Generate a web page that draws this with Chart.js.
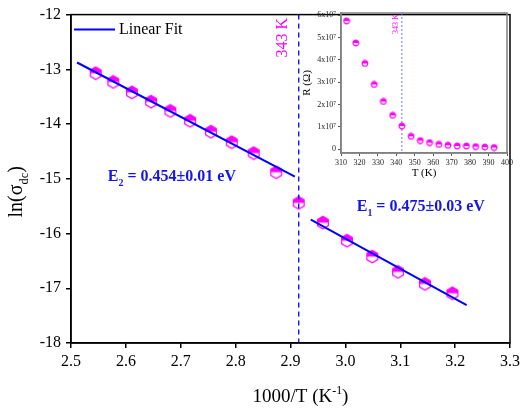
<!DOCTYPE html>
<html><head><meta charset="utf-8">
<script src="https://cdn.jsdelivr.net/npm/chart.js@4"></script>
<style>
html,body{margin:0;padding:0;background:#fff;}
#wrap{position:relative;width:524px;height:408px;overflow:hidden;}
#main{position:absolute;left:0;top:0;}
#inset{position:absolute;left:300px;top:0;}
</style></head><body>
<div id="wrap"><canvas id="main" width="524" height="408"></canvas><canvas id="inset" width="224" height="185"></canvas></div>
<script>
// ---------- data (main plot) ----------
const invT_high = [2.545, 2.577, 2.611, 2.646, 2.681, 2.717, 2.755, 2.793, 2.833, 2.874];
const lnSigma_high = [-13.07, -13.23, -13.42, -13.59, -13.76, -13.94, -14.14, -14.33, -14.53, -14.88];
const invT_mid = [2.915];
const lnSigma_mid = [-15.44];
const invT_low = [2.959, 3.003, 3.049, 3.096, 3.145, 3.195];
const lnSigma_low = [-15.80, -16.13, -16.42, -16.70, -16.92, -17.09];
const fitHighX = [2.511, 2.908];
const fitHighY = [-12.875, -14.96];
const fitLowX = [2.937, 3.221];
const fitLowY = [-15.745, -17.31];
const transitionInvT = 2.915;
const xTicks = [2.5, 2.6, 2.7, 2.8, 2.9, 3.0, 3.1, 3.2, 3.3];
const yTicks = [-18, -17, -16, -15, -14, -13, -12];
const labelE2 = ['E', '2', ' = 0.454±0.01 eV'];
const labelE1 = ['E', '1', ' = 0.475±0.03 eV'];
// ---------- data (inset) ----------
const insetT = [313, 318, 323, 328, 333, 338, 343, 348, 353, 358, 363, 368, 373, 378, 383, 388, 393];
const insetR = [5.745e7, 4.76e7, 3.84e7, 2.90e7, 2.14e7, 1.52e7, 1.04e7, 0.58e7, 0.39e7, 0.30e7, 0.22e7, 0.18e7, 0.15e7, 0.15e7, 0.12e7, 0.10e7, 0.08e7];
const insetXTicks = [310, 320, 330, 340, 350, 360, 370, 380, 390, 400];
const insetYTicks = [0, 1e7, 2e7, 3e7, 4e7, 5e7, 6e7];
const transitionT = 343;

const SERIF = '"Liberation Serif", "Times New Roman", serif';
const MAGENTA = '#ff00ff';
const BLUE = '#0000ff';

function halfMarker(shape, w, h, r) {
  const c = document.createElement('canvas');
  c.width = w; c.height = h;
  const g = c.getContext('2d');
  const cx = w / 2, cy = h / 2;
  g.beginPath();
  if (shape === 'hex') {
    for (let i = 0; i < 6; i++) {
      const a = -Math.PI / 2 + i * Math.PI / 3;
      const px = cx + r * Math.cos(a), py = cy + r * Math.sin(a);
      if (i === 0) g.moveTo(px, py); else g.lineTo(px, py);
    }
    g.closePath();
  } else {
    g.arc(cx, cy, r, 0, Math.PI * 2);
  }
  g.fillStyle = '#fff'; g.fill();
  g.save(); g.clip();
  g.fillStyle = MAGENTA; g.fillRect(0, 0, w, cy);
  g.restore();
  g.lineWidth = 1.2; g.strokeStyle = MAGENTA; g.stroke();
  return c;
}
const hexMarker = halfMarker('hex', 14, 15, 6.2);
const dotMarker = halfMarker('circle', 8, 8, 2.8);

function pts(xs, ys) { return xs.map((x, i) => ({x: x, y: ys[i]})); }

function rich(ctx, x, y, parts, size, weight, align) {
  const segs = parts.map(p => typeof p === 'string' ? {t: p, m: 0} : p);
  let w = 0;
  segs.forEach(s => {
    const fs = s.m ? size * 0.62 : size;
    ctx.font = weight + ' ' + fs + 'px ' + SERIF;
    s.w = ctx.measureText(s.t).width; s.fs = fs; w += s.w;
  });
  let cx = align === 'center' ? x - w / 2 : x;
  ctx.textAlign = 'left'; ctx.textBaseline = 'alphabetic';
  segs.forEach(s => {
    ctx.font = weight + ' ' + s.fs + 'px ' + SERIF;
    const dy = s.m === 1 ? size * 0.28 : (s.m === 2 ? -size * 0.42 : 0);
    ctx.fillText(s.t, cx, y + dy);
    cx += s.w;
  });
}

const mainDeco = {
  id: 'mainDeco',
  afterDatasetsDraw(chart) {
    const {ctx, chartArea: a, scales: {x}} = chart;
    ctx.save();
    ctx.strokeStyle = BLUE; ctx.lineWidth = 1.3; ctx.setLineDash([5, 4]);
    const px = x.getPixelForValue(transitionInvT);
    ctx.beginPath(); ctx.moveTo(px, a.top); ctx.lineTo(px, a.bottom); ctx.stroke();
    ctx.restore();
  },
  afterDraw(chart) {
    const {ctx, chartArea: a, scales: {x, y}} = chart;
    ctx.save();
    ctx.strokeStyle = '#000'; ctx.lineWidth = 1.5;
    ctx.strokeRect(a.left, a.top, a.right - a.left, a.bottom - a.top);
    // legend
    ctx.strokeStyle = BLUE; ctx.lineWidth = 2;
    ctx.beginPath(); ctx.moveTo(a.left + 3, a.top + 15); ctx.lineTo(a.left + 44, a.top + 15); ctx.stroke();
    ctx.fillStyle = '#000'; ctx.font = '16px ' + SERIF; ctx.textAlign = 'left'; ctx.textBaseline = 'middle';
    ctx.fillText('Linear Fit', a.left + 48, a.top + 15);
    // transition label
    ctx.save();
    ctx.translate(x.getPixelForValue(transitionInvT) - 16, a.top + 23);
    ctx.rotate(-Math.PI / 2);
    ctx.fillStyle = MAGENTA; ctx.font = '16px ' + SERIF; ctx.textAlign = 'center'; ctx.textBaseline = 'middle';
    ctx.fillText('343 K', 0, 0);
    ctx.restore();
    // activation energies
    ctx.fillStyle = '#1515e6';
    rich(ctx, x.getPixelForValue(2.567), y.getPixelForValue(-15.045), [labelE2[0], {t: labelE2[1], m: 1}, labelE2[2]], 16, 'bold', 'left');
    rich(ctx, x.getPixelForValue(3.0207), y.getPixelForValue(-15.59), [labelE1[0], {t: labelE1[1], m: 1}, labelE1[2]], 16, 'bold', 'left');
    // axis titles
    ctx.fillStyle = '#000';
    rich(ctx, (a.left + a.right) / 2 + 10, 402, ['1000/T (K', {t: '-1', m: 2}, ')'], 19, 'normal', 'center');
    ctx.save();
    ctx.translate(22, (a.top + a.bottom) / 2 + 13);
    ctx.rotate(-Math.PI / 2);
    rich(ctx, 0, 0, ['ln(σ', {t: 'dc', m: 1}, ')'], 20, 'normal', 'center');
    ctx.restore();
    ctx.restore();
  }
};

new Chart(document.getElementById('main'), {
  type: 'scatter',
  data: {
    datasets: [
      {data: pts(fitHighX, fitHighY), showLine: true, borderColor: BLUE, borderWidth: 2, pointRadius: 0, order: 0},
      {data: pts(fitLowX, fitLowY), showLine: true, borderColor: BLUE, borderWidth: 2, pointRadius: 0, order: 0},
      {data: pts(invT_high, lnSigma_high), pointStyle: hexMarker, pointRadius: 7, order: 1},
      {data: pts(invT_mid, lnSigma_mid), pointStyle: hexMarker, pointRadius: 7, order: 1},
      {data: pts(invT_low, lnSigma_low), pointStyle: hexMarker, pointRadius: 7, order: 1}
    ]
  },
  options: {
    responsive: false, animation: false, devicePixelRatio: 1,
    layout: {padding: {top: 7, right: 12, left: 0, bottom: 0}},
    plugins: {legend: {display: false}, tooltip: {enabled: false}},
    scales: {
      x: {
        type: 'linear', min: 2.5, max: 3.3,
        afterBuildTicks: s => { s.ticks = xTicks.map(v => ({value: v})); },
        afterFit: s => { s.height = 65; },
        ticks: {callback: v => v.toFixed(1), font: {family: SERIF, size: 16}, color: '#000', maxRotation: 0, padding: 4},
        grid: {drawOnChartArea: false, tickLength: 5, color: '#000', lineWidth: 1.5},
        border: {color: '#000', width: 1.5}
      },
      y: {
        type: 'linear', min: -18, max: -12,
        afterBuildTicks: s => { s.ticks = yTicks.map(v => ({value: v})); },
        afterFit: s => { s.width = 71; },
        ticks: {callback: v => String(v), font: {family: SERIF, size: 16}, color: '#000', padding: 5},
        grid: {drawOnChartArea: false, tickLength: 5, color: '#000', lineWidth: 1.5},
        border: {color: '#000', width: 1.5}
      }
    }
  },
  plugins: [mainDeco]
});

const insetDeco = {
  id: 'insetDeco',
  beforeDatasetsDraw(chart) {
    const {ctx, chartArea: a, scales: {x}} = chart;
    ctx.save();
    ctx.strokeStyle = '#7070ff'; ctx.lineWidth = 1; ctx.setLineDash([2, 2]);
    const px = x.getPixelForValue(transitionT);
    ctx.beginPath(); ctx.moveTo(px, a.top); ctx.lineTo(px, a.bottom); ctx.stroke();
    ctx.restore();
  },
  afterDraw(chart) {
    const {ctx, chartArea: a, scales: {x}} = chart;
    ctx.save();
    ctx.strokeStyle = '#808080'; ctx.lineWidth = 1.5;
    ctx.strokeRect(a.left, a.top, a.right - a.left, a.bottom - a.top);
    ctx.save();
    ctx.translate(x.getPixelForValue(transitionT) - 6, a.top + 11);
    ctx.rotate(-Math.PI / 2);
    ctx.fillStyle = MAGENTA; ctx.font = '8px ' + SERIF; ctx.textAlign = 'center'; ctx.textBaseline = 'middle';
    ctx.fillText('343 K', 0, 0);
    ctx.restore();
    ctx.fillStyle = '#000'; ctx.font = '11px ' + SERIF; ctx.textAlign = 'center'; ctx.textBaseline = 'middle';
    ctx.fillText('T (K)', (a.left + a.right) / 2, 173);
    ctx.save();
    ctx.translate(7, (a.top + a.bottom) / 2);
    ctx.rotate(-Math.PI / 2);
    ctx.fillText('R (Ω)', 0, 0);
    ctx.restore();
    ctx.restore();
  }
};

new Chart(document.getElementById('inset'), {
  type: 'scatter',
  data: {datasets: [{data: pts(insetT, insetR), pointStyle: dotMarker, pointRadius: 4}]},
  options: {
    responsive: false, animation: false, devicePixelRatio: 1,
    layout: {padding: {top: 13, right: 17, left: 0, bottom: 0}},
    plugins: {legend: {display: false}, tooltip: {enabled: false}},
    scales: {
      x: {
        type: 'linear', min: 310, max: 400,
        afterBuildTicks: s => { s.ticks = insetXTicks.map(v => ({value: v})); },
        afterFit: s => { s.height = 32; },
        ticks: {callback: v => String(v), font: {family: SERIF, size: 8}, color: '#222', maxRotation: 0, padding: 2},
        grid: {drawOnChartArea: false, tickLength: 3, color: '#555', lineWidth: 1},
        border: {color: '#808080', width: 1.5}
      },
      y: {
        type: 'linear', min: -1.66e6, max: 6.1e7,
        afterBuildTicks: s => { s.ticks = insetYTicks.map(v => ({value: v})); },
        afterFit: s => { s.width = 41; },
        ticks: {callback: v => v === 0 ? '0' : (v / 1e7) + 'x10⁷', font: {family: SERIF, size: 8}, color: '#222', padding: 2},
        grid: {drawOnChartArea: false, tickLength: 3, color: '#555', lineWidth: 1},
        border: {color: '#808080', width: 1.5}
      }
    }
  },
  plugins: [insetDeco]
});
</script>
</body></html>
